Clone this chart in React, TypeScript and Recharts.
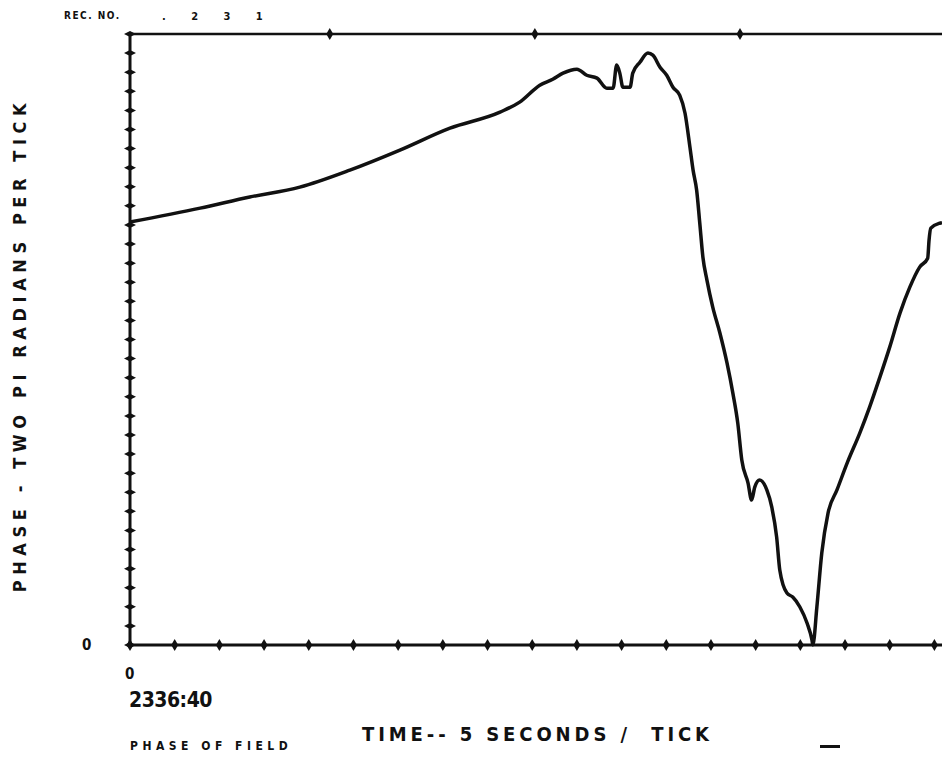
import { LineChart, Line, XAxis, YAxis } from "recharts";

// time in ticks (5 s per tick) from 2336:40
const timeTicks = [
  0, 1.57, 2.68, 3.8, 4.92, 6.04, 7.16, 8.28, 8.72, 9.17, 9.46, 9.69, 10.0,
  10.22, 10.45, 10.67, 10.81, 10.89, 10.96, 11.03, 11.19, 11.25, 11.41, 11.59,
  11.7, 11.86, 12.01, 12.15, 12.3, 12.42, 12.53, 12.6, 12.68, 12.75, 12.82,
  12.91, 13.04, 13.2, 13.36, 13.49, 13.6, 13.69, 13.83, 13.91, 13.98, 14.09,
  14.25, 14.36, 14.47, 14.54, 14.7, 14.83, 14.99, 15.15, 15.26, 15.28, 15.37,
  15.48, 15.62, 15.82, 16.06, 16.33, 16.55, 16.78, 17.0, 17.23, 17.45, 17.67,
  17.85, 17.88, 17.92, 18.12, 18.17,
];

// phase, in y-axis ticks
const phaseValues = [
  22.15, 22.88, 23.46, 23.98, 24.87, 25.92, 27.07, 27.91, 28.43, 29.32, 29.63,
  29.95, 30.16, 29.84, 29.69, 29.16, 29.16, 30.37, 29.95, 29.21, 29.21, 29.95,
  30.52, 31.0, 30.89, 30.26, 29.84, 29.21, 28.8, 27.85, 26.07, 24.87, 23.82,
  22.09, 20.31, 19.11, 17.7, 16.34, 14.76, 13.19, 11.62, 9.69, 8.48, 7.59,
  8.27, 8.64, 8.12, 7.23, 5.65, 3.93, 2.72, 2.51, 1.99, 1.15, 0.26, 0, 1.99,
  4.82, 6.91, 8.12, 9.6, 11.1, 12.46, 14.03, 15.6, 17.38, 18.74, 19.79, 20.26,
  21.2, 21.83, 22.09, 22.12,
];

const xTicks = Array.from({ length: 19 }, (_, i) => i);
const yTicks = Array.from({ length: 33 }, (_, i) => i);
const topMarks = [4.47, 9.06, 13.65];

const data = timeTicks.map((t, i) => ({ t, phase: phaseValues[i] }));

const INK = "#111";
const font = "'DejaVu Sans Condensed', 'DejaVu Sans', sans-serif";

const VTick = (props: any) => {
  const { x, y } = props;
  return (
    <polygon
      points={`${x},${y - 6} ${x + 3.5},${y} ${x},${y + 6} ${x - 3.5},${y}`}
      fill={INK}
    />
  );
};

const HTick = (props: any) => {
  const { x, y } = props;
  return (
    <polygon
      points={`${x - 6},${y} ${x},${y - 3} ${x + 6},${y} ${x},${y + 3}`}
      fill={INK}
    />
  );
};

const txt = (extra: React.CSSProperties): React.CSSProperties => ({
  position: "absolute",
  fontFamily: font,
  fontWeight: 700,
  color: INK,
  whiteSpace: "nowrap",
  lineHeight: 1,
  ...extra,
});

export default function App() {
  return (
    <div
      style={{
        position: "absolute",
        left: 0,
        top: 0,
        width: 942,
        height: 761,
        background: "#fff",
        overflow: "hidden",
      }}
    >
      <LineChart
        width={942}
        height={761}
        data={data}
        margin={{ top: 33, right: 0, left: 129, bottom: 115 }}
      >
        <XAxis
          dataKey="t"
          type="number"
          domain={[0, 18.17]}
          ticks={xTicks}
          interval={0}
          tickSize={0}
          tickMargin={0}
          height={1}
          axisLine={{ stroke: INK, strokeWidth: 3 }}
          tickLine={false}
          tick={<VTick />}
        />
        <XAxis
          xAxisId="top"
          orientation="top"
          dataKey="t"
          type="number"
          domain={[0, 18.17]}
          ticks={topMarks}
          interval={0}
          tickSize={0}
          tickMargin={0}
          height={1}
          axisLine={{ stroke: INK, strokeWidth: 2.5 }}
          tickLine={false}
          tick={<VTick />}
        />
        <YAxis
          type="number"
          domain={[0, 32]}
          ticks={yTicks}
          interval={0}
          tickSize={0}
          tickMargin={0}
          width={1}
          axisLine={{ stroke: INK, strokeWidth: 3 }}
          tickLine={false}
          tick={<HTick />}
        />
        <Line
          dataKey="phase"
          type="monotone"
          stroke={INK}
          strokeWidth={3.5}
          dot={false}
          isAnimationActive={false}
        />
      </LineChart>

      <div style={txt({ left: 64, top: 11, fontSize: 10, letterSpacing: 1.5 })}>
        REC. NO.
      </div>
      <div style={txt({ left: 162, top: 11, fontSize: 11, wordSpacing: 22 })}>
        . 2 3 1
      </div>

      <div
        style={txt({
          left: 20,
          top: 345,
          fontSize: 18,
          letterSpacing: 5.6,
          transform: "translate(-50%, -50%) rotate(-90deg)",
        })}
      >
        PHASE - TWO PI RADIANS PER TICK
      </div>

      <div style={txt({ left: 82, top: 638, fontSize: 15 })}>0</div>
      <div style={txt({ left: 125, top: 667, fontSize: 15 })}>0</div>
      <div style={txt({ left: 129, top: 690, fontSize: 21, letterSpacing: -0.5 })}>
        2336:40
      </div>
      <div style={txt({ left: 362, top: 724, fontSize: 20, letterSpacing: 3.9 })}>
        TIME-- 5 SECONDS /&nbsp; TICK
      </div>
      <div style={txt({ left: 130, top: 740, fontSize: 12, letterSpacing: 4.5 })}>
        PHASE OF FIELD
      </div>
      <div
        style={{
          position: "absolute",
          left: 820,
          top: 745,
          width: 20,
          height: 3,
          background: INK,
        }}
      />
    </div>
  );
}
